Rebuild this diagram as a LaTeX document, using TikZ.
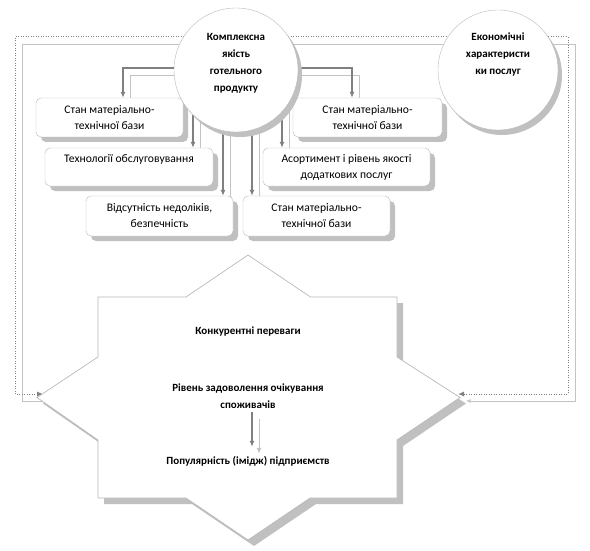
\documentclass[tikz,border=0pt]{standalone}
\usepackage{fontspec}
\setmainfont{Carlito}
\usetikzlibrary{arrows.meta,positioning,shadows}
\definecolor{linkgray}{RGB}{128,128,128}
\definecolor{twingray}{RGB}{195,195,195}
\definecolor{edgegray}{RGB}{185,185,185}
\definecolor{shadowgray}{RGB}{192,192,192}
\pgfdeclarelayer{bg}
\pgfsetlayers{bg,main}
\tikzset{
  box/.style={
    rounded corners=5pt,
    draw=edgegray,
    fill=white,
    align=center,
    inner sep=2pt,
    font=\fontsize{11.6}{16}\selectfont,
    drop shadow={shadow xshift=5pt, shadow yshift=-5pt, fill=shadowgray, opacity=1}
  },
  bigcirc/.style={
    circle,
    draw=edgegray,
    fill=white,
    minimum size=124pt,
    inner sep=0pt,
    drop shadow={shadow xshift=4pt, shadow yshift=-5pt, fill=shadowgray, opacity=1}
  },
  boldtext/.style={align=center, inner sep=1pt, font=\bfseries\fontsize{11}{17}\selectfont},
  arrow/.style={
    -{Latex[length=6pt,width=5pt]}, line width=1.2pt, draw=linkgray,
    preaction={draw=twingray, transform canvas={shift={(7pt,-7pt)}}}
  },
  dotarrow/.style={
    {Latex[length=6pt,width=5pt]}-{Latex[length=6pt,width=5pt]},
    line width=1pt, dash pattern=on 1pt off 1.5pt, draw=linkgray,
    preaction={draw=twingray, transform canvas={shift={(7pt,-7pt)}}}
  },
  starpath/.style={insert path={
    (248,255) -- (310.5,297) -- (397,297) -- (397,357) -- (460,397.5)
    -- (397,440) -- (397,498) -- (310,498) -- (248,540) -- (186,498)
    -- (98,498) -- (98,440) -- (37,397.5) -- (98,357) -- (98,297)
    -- (186,297) -- cycle}}
}

\begin{document}
\begin{tikzpicture}[x=1pt,y=-1pt]
  \useasboundingbox (0,0) rectangle (590,551);

  % star
  \fill[shadowgray, shift={(6pt,-6pt)}, starpath];
  \draw[edgegray, fill=white, line width=0.7pt, starpath];
  \coordinate (starW) at (43,394);
  \coordinate (starE) at (458,394);
  \coordinate (frameNW) at (15,37);
  \coordinate (frameNE) at (568,37);

  \node[boldtext] (sk1) at (248,332) {Конкурентні переваги};
  \node[boldtext] (sk2) at (248,396.5) {Рівень задоволення очікування\\споживачів};
  \node[boldtext] (sk3) at (248,461) {Популярність (імідж) підприємств};
  \draw[arrow, shorten <=2pt, shorten >=8pt] ([xshift=4pt]sk2.south) -- ([xshift=4pt]sk3.north);

  % boxes
  \node[box, minimum width=147pt, minimum height=39pt] (b1) at (109.5,117.5) {Стан матеріально-\\технічної бази};
  \node[box, minimum width=168pt, minimum height=38pt, text depth=16pt] (b2) at (129,167) {Технології обслуговування};
  \node[box, minimum width=147pt, minimum height=40pt] (b3) at (159.5,216) {Відсутність недоліків,\\безпечність};
  \node[box, minimum width=149pt, minimum height=39pt] (b4) at (367.5,117.5) {Стан матеріально-\\технічної бази};
  \node[box, minimum width=167pt, minimum height=38pt] (b5) at (346.5,167) {Асортимент і рівень якості\\додаткових послуг};
  \node[box, minimum width=147pt, minimum height=40pt] (b6) at (316.5,216) {Стан матеріально-\\технічної бази};

  % circles
  \node[bigcirc] (cq) at (236,70) {};
  \node[boldtext] (cqtext) at ([yshift=6.5pt]cq.center) {Комплексна\\якість\\готельного\\продукту};
  \node[bigcirc, minimum size=120pt] (ce) at (498,70) {};
  \node[boldtext] (cetext) at ([yshift=15pt]ce.center) {Економічні\\характеристи\\ки послуг};

  \begin{pgfonlayer}{bg}
    \draw[dotarrow] (starW) -| (frameNW) -- (frameNE) |- (starE);
    \draw[arrow] ([yshift=2pt]cq.center) -| ([xshift=13.5pt]b1.north);
    \draw[arrow] (cq.center) -| ([xshift=64pt]b2.north);
    \draw[arrow] (cq.center) -| ([xshift=63.5pt]b3.north);
    \draw[arrow] ([yshift=2pt]cq.center) -| ([xshift=-15.5pt]b4.north);
    \draw[arrow] (cq.center) -| ([xshift=-64.5pt]b5.north);
    \draw[arrow] (cq.center) -| ([xshift=-64.5pt]b6.north);
  \end{pgfonlayer}
\end{tikzpicture}
\end{document}
